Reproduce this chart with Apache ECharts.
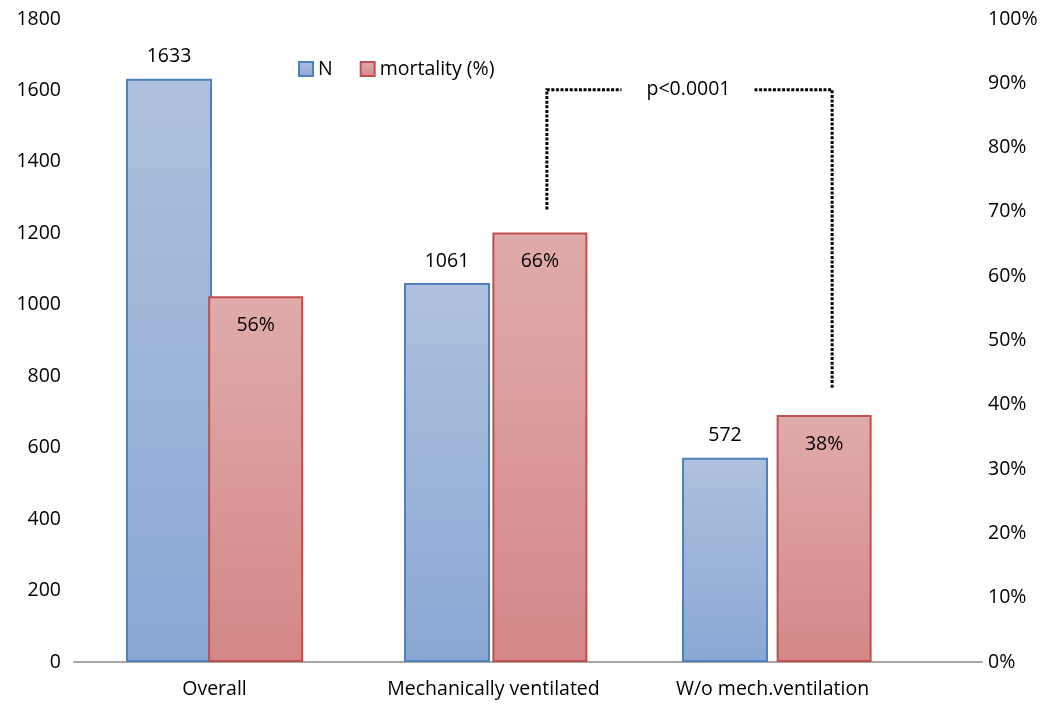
<!DOCTYPE html>
<html>
<head>
<meta charset="utf-8">
<script src="https://cdn.jsdelivr.net/npm/echarts@6/dist/echarts.min.js"></script>
<style>html,body{margin:0;padding:0;background:#fff}#c{width:1043px;height:708px}</style>
</head>
<body>
<div id="c"></div>
<script>
var categories = ['Overall', 'Mechanically ventilated', 'W/o mech.ventilation'];
var nValues = [1633, 1061, 572];
var mortalityValues = [56.9, 66.8, 38.4];
var leftTicks = {min: 0, max: 1800, interval: 200};
var rightTicks = {min: 0, max: 100, interval: 10};
var pValueText = 'p<0.0001';
var bracketTopPct = 89;

var FONT = 'Open Sans';
var FS = 19.5;
var chart = echarts.init(document.getElementById('c'));
var TOP = 19, BOTTOM = 46;

function grad(c1, c2) {
  return new echarts.graphic.LinearGradient(0, 0, 0, 1, [{offset: 0, color: c1}, {offset: 1, color: c2}]);
}

var option = {
  animation: false,
  backgroundColor: '#fff',
  textStyle: {fontFamily: FONT},
  legend: {
    left: 293, top: 54, itemWidth: 14, itemHeight: 14, itemGap: 27,
    icon: 'rect',
    textStyle: {fontFamily: FONT, fontSize: FS, color: '#000'},
    data: ['N', 'mortality (%)']
  },
  grid: [
    {left: 74, right: 61, top: TOP, bottom: BOTTOM},
    {left: 75, width: 837, top: TOP, bottom: BOTTOM},
    {left: 30, width: 834, top: TOP, bottom: BOTTOM},
    {left: 113.5, width: 852.75, top: TOP, bottom: BOTTOM}
  ],
  xAxis: [
    {gridIndex: 0, type: 'category', data: categories, axisLine: {show: true, lineStyle: {color: '#a6a6a6', width: 2}}, axisTick: {show: false}, axisLabel: {show: false}},
    {gridIndex: 1, type: 'category', data: categories, axisLine: {show: false}, axisTick: {show: false},
      axisLabel: {margin: 17, fontFamily: FONT, fontSize: FS, color: '#000', interval: 0}},
    {gridIndex: 2, type: 'category', data: categories, show: false},
    {gridIndex: 3, type: 'category', data: categories, show: false}
  ],
  yAxis: [
    {gridIndex: 0, type: 'value', min: leftTicks.min, max: leftTicks.max, interval: leftTicks.interval,
      axisLine: {show: false}, axisTick: {show: false}, splitLine: {show: false},
      axisLabel: {margin: 13, fontFamily: FONT, fontSize: FS, color: '#000', formatter: function (v) { return String(v); }}},
    {gridIndex: 0, type: 'value', position: 'right', min: rightTicks.min, max: rightTicks.max, interval: rightTicks.interval,
      axisLine: {show: false}, axisTick: {show: false}, splitLine: {show: false},
      axisLabel: {margin: 6, fontFamily: FONT, fontSize: FS, color: '#000', formatter: '{value}%'}},
    {gridIndex: 1, type: 'value', min: 0, max: 1, show: false},
    {gridIndex: 2, type: 'value', min: leftTicks.min, max: leftTicks.max, show: false},
    {gridIndex: 3, type: 'value', min: rightTicks.min, max: rightTicks.max, show: false}
  ],
  series: [
    {
      name: 'N', type: 'bar', xAxisIndex: 2, yAxisIndex: 3, data: nValues, barWidth: 86,
      itemStyle: {color: grad('#aec1de', '#8aa7d3'), borderColor: '#4f81bd', borderWidth: 2},
      label: {show: true, position: 'top', distance: 12, fontFamily: FONT, fontSize: FS, color: '#000'}
    },
    {
      name: 'mortality (%)', type: 'bar', xAxisIndex: 3, yAxisIndex: 4, data: mortalityValues, barWidth: 95,
      itemStyle: {color: grad('#e0abab', '#d48787'), borderColor: '#c0504d', borderWidth: 2},
      label: {show: true, position: 'insideTop', distance: 19, fontFamily: FONT, fontSize: FS, color: '#000',
        formatter: function (p) { return Math.floor(p.value) + '%'; }}
    }
  ]
};
chart.setOption(option);

// p-value bracket between the two ventilation groups
var a = chart.convertToPixel({xAxisIndex: 3, yAxisIndex: 4}, [categories[1], mortalityValues[1]]);
var b = chart.convertToPixel({xAxisIndex: 3, yAxisIndex: 4}, [categories[2], mortalityValues[2]]);
var topY = chart.convertToPixel({xAxisIndex: 3, yAxisIndex: 4}, [categories[1], bracketTopPct])[1];
var xl = a[0] + 7, xr = b[0] + 8;
var midX = (xl + xr) / 2 - 1;
var dash = {stroke: '#000', lineWidth: 3, lineDash: [3, 1.6]};
chart.setOption({
  graphic: [
    {type: 'polyline', shape: {points: [[xl, a[1] - 23], [xl, topY], [midX - 67, topY]]}, style: dash, silent: true},
    {type: 'polyline', shape: {points: [[midX + 66, topY], [xr, topY], [xr, b[1] - 26]]}, style: dash, silent: true},
    {type: 'text', x: midX, y: topY, style: {text: pValueText, font: FS + 'px "' + FONT + '"', fill: '#000', align: 'center', verticalAlign: 'middle'}, silent: true}
  ]
});
</script>
</body>
</html>
